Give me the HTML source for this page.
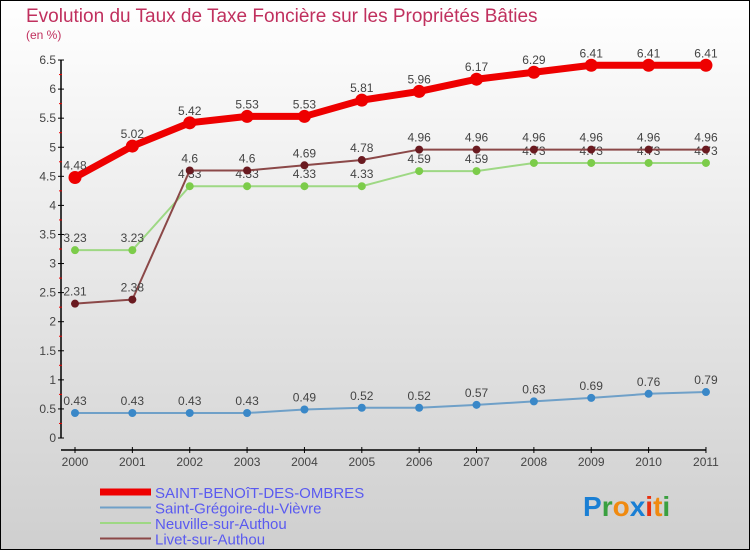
<!DOCTYPE html>
<html><head><meta charset="utf-8"><style>
body{margin:0}
svg{display:block;font-family:"Liberation Sans",sans-serif}
</style></head><body>
<svg id="c" width="750" height="550" viewBox="0 0 750 550">
<defs><linearGradient id="bg" x1="0" y1="0" x2="0" y2="1"><stop offset="0" stop-color="#ffffff"/><stop offset="1" stop-color="#cfcfcf"/></linearGradient></defs>
<rect x="0.5" y="0.5" width="749" height="549" fill="url(#bg)" stroke="#000"/>
<text x="26" y="22" font-size="19" fill="#c0305e">Evolution du Taux de Taxe Foncière sur les Propriétés Bâties</text>
<text x="26" y="39" font-size="12" fill="#c0305e">(en %)</text>
<g id="axes"></g>
<g id="series"></g>
<g id="legend"></g>
<g font-size="28" font-weight="bold">
<text x="583" y="516"><tspan fill="#1a7fd4">P</tspan><tspan fill="#3aa040">r</tspan><tspan fill="#f08a10">o</tspan><tspan fill="#1a7fd4">x</tspan><tspan fill="#e83010">i</tspan><tspan fill="#f08a10">t</tspan><tspan fill="#3aa040">i</tspan></text>
</g>
</svg>
<script>
const years=["2000","2001","2002","2003","2004","2005","2006","2007","2008","2009","2010","2011"];
const yTicks=[0,0.5,1,1.5,2,2.5,3,3.5,4,4.5,5,5.5,6,6.5];
const saintBenoit=[4.48,5.02,5.42,5.53,5.53,5.81,5.96,6.17,6.29,6.41,6.41,6.41];
const saintGregoire=[0.43,0.43,0.43,0.43,0.49,0.52,0.52,0.57,0.63,0.69,0.76,0.79];
const neuville=[3.23,3.23,4.33,4.33,4.33,4.33,4.59,4.59,4.73,4.73,4.73,4.73];
const livet=[2.31,2.38,4.6,4.6,4.69,4.78,4.96,4.96,4.96,4.96,4.96,4.96];
const NS="http://www.w3.org/2000/svg";
const X=i=>75+i*57.36;
const Y=v=>438-v*58.15;
function mk(tag,attrs,parent){const e=document.createElementNS(NS,tag);for(const k in attrs)e.setAttribute(k,attrs[k]);parent.appendChild(e);return e;}
const ax=document.getElementById('axes');
let yl=mk('line',{x1:61,y1:Y(6.5),x2:61,y2:Y(0),stroke:'#000','stroke-width':1.5},ax);


yTicks.forEach(t=>{
 const y=Y(t);
 mk('line',{x1:58,y1:y,x2:64,y2:y,stroke:'#000'},ax);
 mk('line',{x1:59,y1:Y(t+0.25),x2:62,y2:Y(t+0.25),stroke:t<6.5?'#e00':'none'},ax);
 const tx=mk('text',{x:56,y:y+4,'text-anchor':'end','font-size':12,fill:'#444'},ax);
 tx.textContent=String(t);
 
 
});
let xl=mk('line',{x1:61,y1:450,x2:X(11),y2:450,stroke:'#000','stroke-width':1.5},ax);


years.forEach((yr,i)=>{
 mk('line',{x1:X(i),y1:447,x2:X(i),y2:453,stroke:'#000'},ax);
 const tx=mk('text',{x:X(i),y:466,'text-anchor':'middle','font-size':12,fill:'#444'},ax);
 tx.textContent=yr;
 
 
});
const sg=document.getElementById('series');
const series=[
 {name:'saint-gregoire',data:saintGregoire,color:'#6fa0c8',dot:'#3a88c8',w:2,r:4},
 {name:'neuville',data:neuville,color:'#9ed884',dot:'#7ccc4a',w:2,r:4},
 {name:'livet',data:livet,color:'#8b4848',dot:'#6a1a20',w:2,r:4},
 {name:'saint-benoit',data:saintBenoit,color:'#ee0000',dot:'#ee0000',w:7,r:6.5}
];
series.forEach(s=>{
 const g=mk('g',{},sg);
 
 
 const pl=mk('polyline',{points:s.data.map((v,i)=>X(i)+','+Y(v)).join(' '),fill:'none',stroke:s.color,'stroke-width':s.w},g);
 
 
 s.data.forEach((v,i)=>{
  const c=mk('circle',{cx:X(i),cy:Y(v),r:s.r,fill:s.dot},g);
  
  
  const t=mk('text',{x:X(i),y:Y(v)-8,'text-anchor':'middle','font-size':12,fill:'#444'},g);
  t.textContent=String(v);
  
  
 });
});
const lg=document.getElementById('legend');
const leg=[['SAINT-BENOîT-DES-OMBRES','#ee0000',7],['Saint-Grégoire-du-Vièvre','#6fa0c8',2],['Neuville-sur-Authou','#9ed884',2],['Livet-sur-Authou','#8b4848',2]];
leg.forEach((l,i)=>{
 const y=492+i*15.5;
 const g=mk('g',{},lg);
 
 
 mk('line',{x1:100,y1:y,x2:151,y2:y,stroke:l[1],'stroke-width':l[2]},g);
 const t=mk('text',{x:155,y:y+6,'font-size':15,fill:'#5a5af0'},g);
 t.textContent=l[0];
});
</script>
</body></html>
